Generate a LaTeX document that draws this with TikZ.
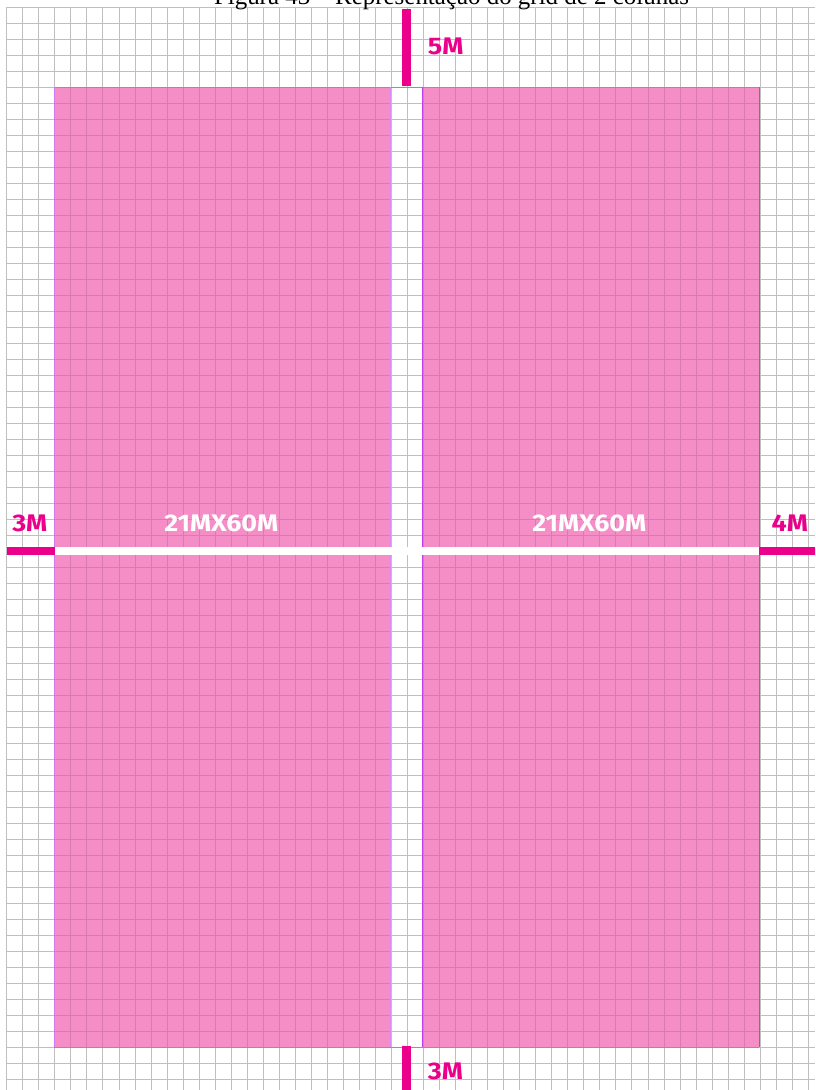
\documentclass[tikz,border=0pt]{standalone}
\usepackage{fontspec}
\setmainfont{Liberation Serif}
\newfontfamily\labfont{Fira Sans}[FakeStretch=1.12]
\definecolor{gridgray}{HTML}{BFBFBF}
\definecolor{colpink}{HTML}{F58EC6}
\definecolor{pinkline}{HTML}{D97BB2}
\definecolor{magentabar}{HTML}{EB008B}
\definecolor{edgepurple}{HTML}{C040E8}
\definecolor{edgepink}{HTML}{EE5CC4}
\tikzset{
  gridline/.style={draw=gridgray, line width=0.75pt},
  pinkgrid/.style={draw=pinkline, line width=0.75pt},
  colbox/.style={fill=colpink},
  bar/.style={fill=magentabar},
  marglabel/.style={inner sep=0pt, text=magentabar, font=\labfont\bfseries\fontsize{18}{18}\selectfont},
  sizelabel/.style={inner sep=0pt, text=white, font=\labfont\bfseries\fontsize{18}{18}\selectfont},
  titletext/.style={inner sep=0pt, font=\fontsize{18.7}{20}\selectfont}
}
\begin{document}
\begin{tikzpicture}[x=0.75pt,y=-0.75pt]
\useasboundingbox (0,0) rectangle (815,1090);
\fill[white] (0,0) rectangle (815,1090);
% background grid
\foreach \i in {0,...,50} \draw[gridline] ({6.8+16.03*\i},7.3) -- ({6.8+16.03*\i},1090);
\foreach \j in {0,...,67} \draw[gridline] (6.8,{7.8+16*\j}) -- (815,{7.8+16*\j});
% columns
\fill[colbox] (54.1,87.3) rectangle (390.7,1047.3);
\fill[colbox] (422.7,87.3) rectangle (759.3,1047.3);
\begin{scope}
\clip (54.1,87.3) rectangle (390.7,1047.3) (422.7,87.3) rectangle (759.3,1047.3);
\foreach \i in {3,...,47} \draw[pinkgrid] ({6.8+16.03*\i},87.3) -- ({6.8+16.03*\i},1047.3);
\foreach \j in {5,...,65} \draw[pinkgrid] (54.1,{7.8+16*\j}) -- (759.3,{7.8+16*\j});
\end{scope}
% column edges
\draw[edgepink, line width=0.75pt] (54.1,87.3) -- (759.3,87.3);
\draw[edgepink, line width=0.75pt] (54.1,1047.3) -- (759.3,1047.3);
\draw[edgepurple!70, line width=0.75pt] (54.1,87.3) -- (54.1,1047.3);
\draw[edgepurple!60, line width=0.75pt] (390.7,87.3) -- (390.7,1047.3);
\draw[edgepurple, line width=0.75pt] (422.7,87.3) -- (422.7,1047.3);
\draw[edgepurple, line width=0.75pt] (759.3,87.3) -- (759.3,1047.3);
% white band
\fill[white] (54.1,547) rectangle (759.3,555.3);
% magenta margin bars
\fill[bar] (401.9,9) rectangle (410.9,86);
\fill[bar] (401.9,1046) rectangle (410.9,1090);
\fill[bar] (7,547.3) rectangle (55,555.3);
\fill[bar] (758.7,547.3) rectangle (815,555.3);
% labels
\node[titletext, anchor=base] (title) at (451.5,4) {Figura 43 – Representação do grid de 2 colunas};
\node[marglabel, anchor=west] (top) at (427.7,46.3) {5M};
\node[marglabel, anchor=west] (left) at (12,523.3) {3M};
\node[marglabel, anchor=east] (right) at (808.3,523.3) {4M};
\node[marglabel, anchor=west] (bottom) at (427.7,1071) {3M};
\node[sizelabel] (colA) at (221.3,523) {21MX60M};
\node[sizelabel] (colB) at (589.3,523) {21MX60M};
\end{tikzpicture}
\end{document}
